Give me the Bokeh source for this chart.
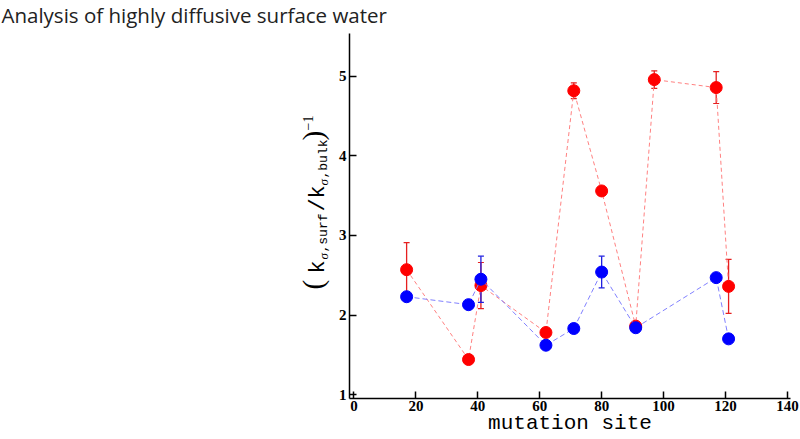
from bokeh.plotting import figure
from bokeh.models import (ColumnDataSource, Whisker, TeeHead, Label, FixedTicker, Range1d)
from bokeh.layouts import column, row
from bokeh.embed import file_html
from bokeh.resources import INLINE
import math

# ---------------- data ----------------
title_text = "Analysis of highly diffusive surface water"
x_label = "mutation site"

red_sites = [17, 37, 41, 62, 71, 80, 91, 97, 117, 121]
red_vals = [2.57, 1.44, 2.37, 1.78, 4.82, 3.56, 1.86, 4.96, 4.86, 2.36]
red_err = [0.34, 0.0, 0.29, 0.0, 0.10, 0.0, 0.0, 0.11, 0.20, 0.34]

blue_sites = [17, 37, 41, 62, 71, 80, 91, 117, 121]
blue_vals = [2.23, 2.13, 2.45, 1.62, 1.83, 2.54, 1.84, 2.47, 1.70]
blue_err = [0.0, 0.0, 0.29, 0.0, 0.0, 0.20, 0.0, 0.0, 0.0]

x_ticks = [0, 20, 40, 60, 80, 100, 120, 140]
y_ticks = [1, 2, 3, 4, 5]

# ---------------- layout sizes ----------------
PW, PH = 800, 439
TH = 30            # title strip height
LW = 330           # y-label strip width
BH = PH - TH       # main row height
MID_BOTTOM = PH    # page y of main row bottom
FL, FR, FT, FB = 349, 790, 33, 398   # main frame edges in page pixels


def blank(w, h, top=0, bottom=0):
    f = figure(width=w, height=h, output_backend="svg", toolbar_location=None,
               x_axis_location=None, y_axis_location=None, title=None,
               x_range=Range1d(0, w), y_range=Range1d(0, h - top - bottom),
               min_border=0, min_border_top=top, min_border_bottom=bottom)
    f.outline_line_color = None
    f.xgrid.visible = False
    f.ygrid.visible = False
    return f


def mid_off(size_px):
    # distance from the "middle" anchor to the alphabetic baseline
    return 0.34 * size_px


# ---------------- title strip ----------------
TFS = 20.5
tfig = blank(PW, TH)
tfig.add_layout(Label(x=1, y=TH - (21 - mid_off(TFS)), x_units="screen", y_units="screen",
                      text=title_text, text_font="Open Sans", text_font_size=f"{TFS}px",
                      text_color="#222222", text_align="left", text_baseline="middle"))

# ---------------- y label strip (frame aligned with the main frame) ----------------
lfig = blank(LW, BH, top=FT - TH, bottom=MID_BOTTOM - FB)
pieces = [
    # text, font, size(px), style, page-x of baseline, page-y of start
    ("(", "Liberation Serif", 29, "normal", 322, 289),
    ("k", "Liberation Mono", 22, "normal", 325, 273),
    ("\u03c3", "Liberation Serif", 13, "italic", 327, 259),
    (",surf", "Liberation Mono", 13, "normal", 327, 252),
    ("/", "Liberation Mono", 22, "normal", 325, 211),
    ("k", "Liberation Mono", 22, "normal", 325, 198),
    ("\u03c3", "Liberation Serif", 13, "italic", 327, 185),
    (",bulk", "Liberation Mono", 13, "normal", 327, 178),
    (")", "Liberation Serif", 29, "normal", 322, 140),
    ("\u22121", "Liberation Serif", 14, "normal", 312, 130),
]
for t, f, s, st, bx, by in pieces:
    lfig.add_layout(Label(x=bx - mid_off(s), y=FB - by, x_units="screen", y_units="screen",
                          text=t, text_font=f, text_font_size=f"{s}px", text_font_style=st,
                          text_color="black", angle=math.pi / 2,
                          text_align="left", text_baseline="middle"))

# ---------------- main plot ----------------
p = figure(width=PW - LW, height=BH, output_backend="svg", toolbar_location=None,
           title=None,
           x_range=Range1d(-1.45, 141.0), y_range=Range1d(0.95, 5.54),
           min_border_left=FL - LW, min_border_right=PW - FR,
           min_border_top=FT - TH, min_border_bottom=MID_BOTTOM - FB)
p.outline_line_color = None
p.xgrid.visible = False
p.ygrid.visible = False

for ax, ticks in ((p.xaxis[0], x_ticks), (p.yaxis[0], y_ticks)):
    ax.ticker = FixedTicker(ticks=ticks)
    ax.axis_line_color = "black"
    ax.axis_line_width = 1.5
    ax.major_tick_line_color = "black"
    ax.major_tick_line_width = 1.5
    ax.major_tick_in = 7
    ax.major_tick_out = 0
    ax.minor_tick_line_color = None
    ax.major_label_text_font = "Liberation Serif"
    ax.major_label_text_font_style = "bold"
    ax.major_label_text_font_size = "15px"
    ax.major_label_text_color = "black"
p.xaxis.major_label_standoff = 2
p.yaxis.major_label_standoff = 3
p.xaxis.axis_label = x_label
p.xaxis.axis_label_text_font = "Liberation Mono"
p.xaxis.axis_label_text_font_size = "21px"
p.xaxis.axis_label_text_font_style = "normal"
p.xaxis.axis_label_text_color = "black"
p.xaxis.axis_label_standoff = -2

# red series
rsrc = ColumnDataSource(dict(x=red_sites, y=red_vals))
p.line("x", "y", source=rsrc, line_color="#ff8080", line_dash="4 3", line_width=1)
re_x = [s for s, e in zip(red_sites, red_err) if e > 0]
re_u = [v + e for v, e in zip(red_vals, red_err) if e > 0]
re_l = [v - e for v, e in zip(red_vals, red_err) if e > 0]
resrc = ColumnDataSource(dict(x=re_x, upper=re_u, lower=re_l))
p.add_layout(Whisker(source=resrc, base="x", upper="upper", lower="lower",
                     line_color="#e62020", line_width=1.3,
                     upper_head=TeeHead(size=6, line_color="#e62020", line_width=1.2),
                     lower_head=TeeHead(size=6, line_color="#e62020", line_width=1.2)))
p.scatter("x", "y", source=rsrc, size=12, fill_color="#ff0000", line_color="#ff0000")

# blue series
bsrc = ColumnDataSource(dict(x=blue_sites, y=blue_vals))
p.line("x", "y", source=bsrc, line_color="#8080ff", line_dash="5 3", line_width=1)
be_x = [s for s, e in zip(blue_sites, blue_err) if e > 0]
be_u = [v + e for v, e in zip(blue_vals, blue_err) if e > 0]
be_l = [v - e for v, e in zip(blue_vals, blue_err) if e > 0]
besrc = ColumnDataSource(dict(x=be_x, upper=be_u, lower=be_l))
p.add_layout(Whisker(source=besrc, base="x", upper="upper", lower="lower",
                     line_color="#2020e0", line_width=1.3,
                     upper_head=TeeHead(size=6, line_color="#2020e0", line_width=1.2),
                     lower_head=TeeHead(size=6, line_color="#2020e0", line_width=1.2)))
p.scatter("x", "y", source=bsrc, size=12, fill_color="#0000ff", line_color="#0000ff")

layout = column(tfig, row(lfig, p, spacing=0), spacing=0)
open("out.html", "w").write(file_html(layout, INLINE))
